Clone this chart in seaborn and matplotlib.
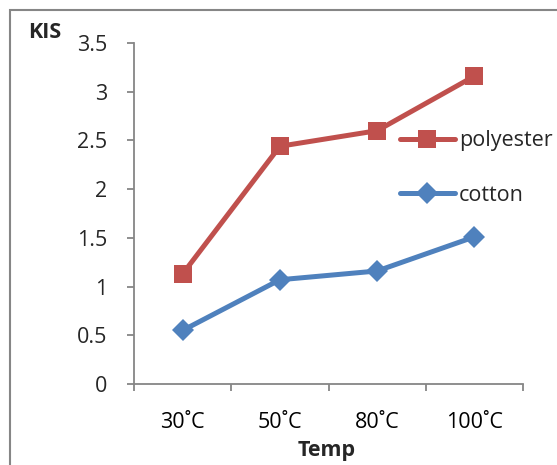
import numpy as np
import pandas as pd
import matplotlib
matplotlib.use("Agg")
import matplotlib.pyplot as plt
import seaborn as sns
from matplotlib.patches import Rectangle

categories = ["30˚C", "50˚C", "80˚C", "100˚C"]
polyester = [1.13, 2.44, 2.60, 3.16]
cotton = [0.55, 1.07, 1.16, 1.51]
yticks = [0, 0.5, 1, 1.5, 2, 2.5, 3, 3.5]
ytick_labels = ["0", "0.5", "1", "1.5", "2", "2.5", "3", "3.5"]

sns.set_style("white")
plt.rcParams["font.family"] = ["Open Sans", "DejaVu Sans"]
FS = 15.5

pos = np.arange(len(categories))
df = pd.DataFrame({
    "pos": np.concatenate([pos, pos]),
    "KIS": polyester + cotton,
    "series": ["polyester"] * len(pos) + ["cotton"] * len(pos),
})

fig = plt.figure(figsize=(5.57, 4.65), dpi=100)
ax = fig.add_axes([134 / 557, 1 - 384 / 465, (523 - 134) / 557, (384 - 43) / 465])

red = "#C0504D"
blue = "#4F81BD"
sns.lineplot(data=df, x="pos", y="KIS", hue="series", style="series",
             palette={"polyester": red, "cotton": blue},
             markers={"polyester": "s", "cotton": "D"},
             dashes={"polyester": "", "cotton": ""},
             hue_order=["polyester", "cotton"],
             linewidth=3.6, markersize=13, markeredgewidth=0,
             ax=ax, legend=True)
for line in ax.lines:
    if line.get_marker() == "D":
        line.set_markersize(11)

ax.set_xlim(-0.5, len(categories) - 0.5)
ax.set_ylim(0, 3.5)
ax.set_yticks(yticks)
ax.set_yticklabels(ytick_labels)
ax.set_xticks(np.arange(len(categories) + 1) - 0.5)
ax.set_xticklabels([])
ax.set_xticks(pos, minor=True)
ax.set_xticklabels(categories, minor=True)
ax.tick_params(axis="x", which="major", direction="out", length=5, width=1.3, color="#868686", bottom=True)
ax.tick_params(axis="x", which="minor", length=0, pad=20, labelsize=FS, labelcolor="black")
ax.tick_params(axis="y", direction="out", length=5, width=1.3, color="#868686", pad=14, labelsize=FS, left=True)
ax.set_xlabel("")
ax.set_ylabel("")
for s in ["top", "right"]:
    ax.spines[s].set_visible(False)
for s in ["left", "bottom"]:
    ax.spines[s].set_color("#868686")
    ax.spines[s].set_linewidth(1.3)

handles, labels = ax.get_legend_handles_labels()
for h in handles:
    if h.get_marker() == "D":
        h.set_markersize(11)
ax.legend(handles, labels, loc="center left", bbox_to_anchor=((400 - 134) / 389, (384 - 168) / 341),
          frameon=False, borderpad=0, borderaxespad=0, handlelength=2.55,
          handletextpad=0.18, labelspacing=1.55, fontsize=FS)

fig.text(45 / 557, 1 - 33 / 465, "KIS", ha="center", va="center", fontsize=FS, fontweight="bold")
fig.text(327 / 557, 1 - 450 / 465, "Temp", ha="center", va="center", fontsize=FS, fontweight="bold")

fig.patches.append(Rectangle((9.5 / 557, -0.1), 1.2, 1 - 10.5 / 465 + 0.1, transform=fig.transFigure,
                             fill=False, edgecolor="#868686", linewidth=1.5, figure=fig))

fig.savefig("out.png", dpi=100)
